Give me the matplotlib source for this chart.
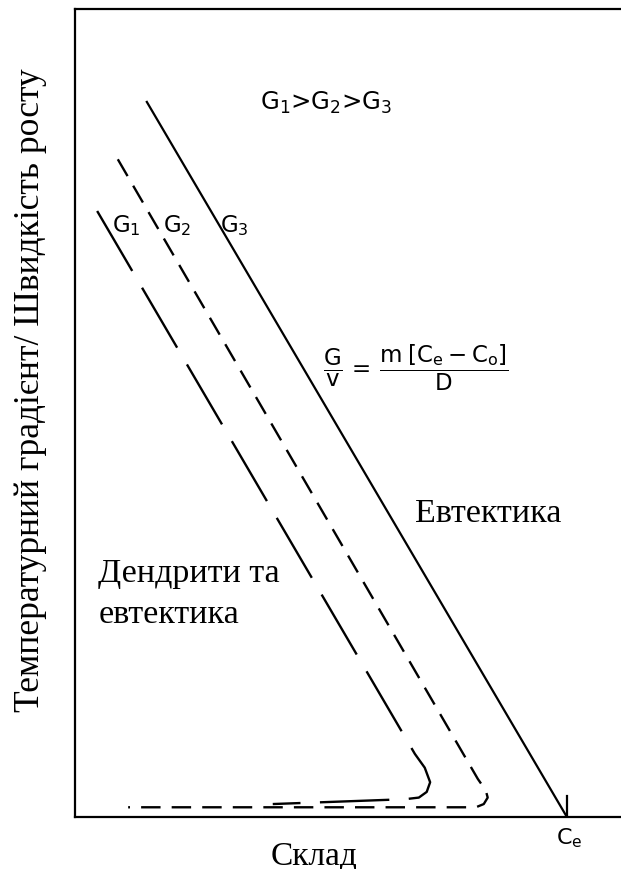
import matplotlib
matplotlib.use("Agg")
import matplotlib.pyplot as plt

plt.rcParams['lines.scale_dashes'] = False
plt.rcParams['mathtext.fontset'] = 'dejavusans'
plt.rcParams['mathtext.default'] = 'regular'

# composition (as fraction of C_e) vs G/v
C_E = 1.0

g3_c = [0.146, 1.0]
g3_gv = [0.885, 0.0]

g2_c = [0.087, 0.819, 0.835, 0.839, 0.831, 0.815, 0.108]
g2_gv = [0.814, 0.047, 0.033, 0.024, 0.016, 0.012, 0.012]

g1_c = [0.045, 0.691, 0.711, 0.722, 0.715, 0.699, 0.671, 0.402]
g1_gv = [0.750, 0.078, 0.061, 0.043, 0.031, 0.024, 0.022, 0.016]

SERIF = 'Liberation Serif'
SANS = 'DejaVu Sans'


def main():
    fig = plt.figure(figsize=(6.21, 8.70), dpi=100)
    ax = fig.add_axes([0.1208, 0.0598, 0.8792, 0.9287])

    ax.plot(g3_c, g3_gv, color='black', lw=1.6)
    ax.plot(g2_c, g2_gv, color='black', lw=1.7, dashes=(14, 8))
    ax.plot(g1_c, g1_gv, color='black', lw=1.7, dashes=(50, 14))
    ax.plot([C_E, C_E], [0, 0.026], color='black', lw=1.6)

    ax.set_xlim(0, 1.11)
    ax.set_ylim(0, 1)
    ax.set_xticks([])
    ax.set_yticks([])
    ax.spines['right'].set_visible(False)
    for s in ('left', 'bottom', 'top'):
        ax.spines[s].set_linewidth(1.6)

    ax.text(0.376, 0.876, r'G$_1$>G$_2$>G$_3$', fontsize=17.5, family=SANS, va='baseline')
    ax.text(0.075, 0.725, r'G$_1$', fontsize=16.5, family=SANS, va='baseline')
    ax.text(0.179, 0.725, r'G$_2$', fontsize=16.5, family=SANS, va='baseline')
    ax.text(0.295, 0.725, r'G$_3$', fontsize=16.5, family=SANS, va='baseline')
    ax.text(0.504, 0.557, r'$\dfrac{G}{v}\,=\,\dfrac{m\;\left[C_e - C_o\right]}{D}$',
            fontsize=16.5, family=SANS, va='center')
    ax.text(C_E + 0.005, -0.01, r'C$_e$', fontsize=16, family=SANS, ha='center', va='top')

    ax.text(0.691, 0.366, 'Евтектика', fontsize=24.5, family=SERIF, va='baseline')
    ax.text(0.047, 0.292, 'Дендрити та', fontsize=24.5, family=SERIF, va='baseline')
    ax.text(0.047, 0.241, 'евтектика', fontsize=24.5, family=SERIF, va='baseline')

    ax.set_xlabel('Склад', fontsize=24, family=SERIF)
    ax.xaxis.set_label_coords(0.437, -0.028)
    ax.set_ylabel('Температурний градієнт/ Швидкість росту', fontsize=25.5, family=SERIF)
    ax.yaxis.set_label_coords(-0.051, 0.53)

    fig.savefig('out.png', dpi=100)


if __name__ == "__main__":
    main()
